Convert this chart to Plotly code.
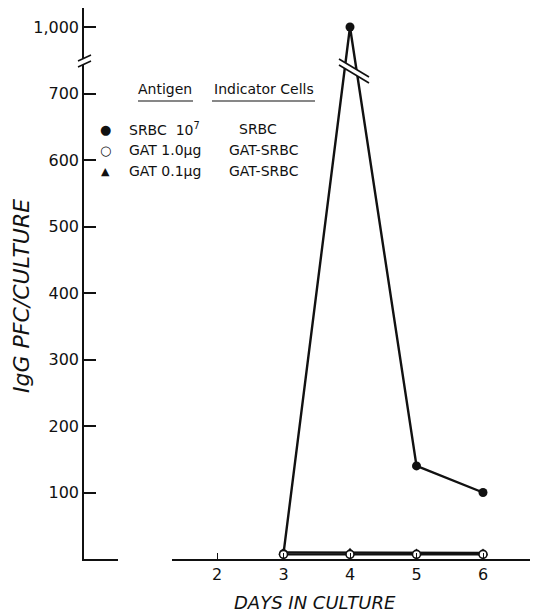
import plotly.graph_objects as go

# ---- data ----
days = [3, 4, 5, 6]
srbc_1e7 = [8, 1000, 140, 100]          # SRBC 10^7 / SRBC indicator
gat_1ug = [7, 7, 7, 7]                  # GAT 1.0 ug / GAT-SRBC
gat_01ug = [10, 10, 9, 9]               # GAT 0.1 ug / GAT-SRBC

x_ticks = [2, 3, 4, 5, 6]
y_ticks = [100, 200, 300, 400, 500, 600, 700, 1000]
y_ticktext = ["100", "200", "300", "400", "500", "600", "700", "1,000"]

# broken axis: values above the break are compressed
def disp(v):
    return v if v <= 750 else 800 + (v - 1000) * 0.2

W, H = 535, 616
ML, MR, MT, MB = 84, 5, 8, 57
PW, PH = W - ML - MR, H - MT - MB

def px(xp):
    return (xp - ML) / PW

def py(yp):
    return (H - MB - yp) / PH

FONT = "DejaVu Sans"
BLACK = "#111111"

fig = go.Figure()

fig.add_trace(go.Scatter(
    x=days, y=[disp(v) for v in srbc_1e7], mode="lines+markers",
    line=dict(color=BLACK, width=2.4),
    marker=dict(symbol="circle", size=9, color=BLACK),
    name="SRBC 10^7", cliponaxis=False))
fig.add_trace(go.Scatter(
    x=days, y=[disp(v) for v in gat_01ug], mode="lines+markers",
    line=dict(color=BLACK, width=2.4),
    marker=dict(symbol="triangle-up", size=9, color=BLACK),
    name="GAT 0.1", cliponaxis=False))
fig.add_trace(go.Scatter(
    x=days, y=[disp(v) for v in gat_1ug], mode="lines+markers",
    line=dict(color=BLACK, width=2.4),
    marker=dict(symbol="circle", size=8, color="white",
                line=dict(color=BLACK, width=1.6)),
    name="GAT 1.0", cliponaxis=False))

shapes = []
# gap in x axis
shapes.append(dict(type="rect", xref="paper", yref="paper",
                   x0=px(118), x1=px(172), y0=py(563), y1=py(555),
                   fillcolor="white", line=dict(width=0), layer="above"))

def brk(x0, y0, x1, y1, gap):
    p = (f"M {px(x0)} {py(y0)} L {px(x1)} {py(y1)} "
         f"L {px(x1)} {py(y1 + gap)} L {px(x0)} {py(y0 + gap)} Z")
    shapes.append(dict(type="path", xref="paper", yref="paper", path=p,
                       fillcolor="white", line=dict(width=0), layer="above"))
    for g in (0, gap):
        shapes.append(dict(type="line", xref="paper", yref="paper",
                           x0=px(x0), y0=py(y0 + g), x1=px(x1), y1=py(y1 + g),
                           line=dict(color=BLACK, width=1.6), layer="above"))

# y-axis break
brk(78, 61, 91, 55, 6)
# break on the peak line
brk(339, 59, 369, 77, 6)

# legend header underlines
shapes.append(dict(type="line", xref="paper", yref="paper",
                   x0=px(138), x1=px(193), y0=py(101), y1=py(101),
                   line=dict(color=BLACK, width=1.2)))
shapes.append(dict(type="line", xref="paper", yref="paper",
                   x0=px(212), x1=px(315), y0=py(101), y1=py(101),
                   line=dict(color=BLACK, width=1.2)))

ann = []
def txt(x, y, s, size=14, anchor="left", italic=False, angle=0):
    ann.append(dict(x=px(x), y=py(y), xref="paper", yref="paper",
                    text=(f"<i>{s}</i>" if italic else s), textangle=angle,
                    showarrow=False, xanchor=anchor, yanchor="middle",
                    font=dict(family=FONT, size=size, color=BLACK)))

txt(165, 89, "Antigen", anchor="center")
txt(264, 89, "Indicator Cells", anchor="center")
txt(105, 129, "●", size=13, anchor="center")
txt(105, 150, "○", size=13, anchor="center")
txt(105, 171, "▲", size=11, anchor="center")
txt(127, 129, "SRBC  10<sup>7</sup>")
txt(127, 150, "GAT 1.0µg")
txt(127, 171, "GAT 0.1µg")
txt(258, 129, "SRBC", anchor="center")
txt(264, 150, "GAT-SRBC", anchor="center")
txt(264, 171, "GAT-SRBC", anchor="center")

# axis titles
txt(315, 602, "DAYS IN CULTURE", size=18, anchor="center", italic=True)
txt(21, 296, "IgG PFC/CULTURE", size=22, anchor="center", italic=True, angle=-90)

fig.update_layout(
    width=W, height=H, margin=dict(l=ML, r=MR, t=MT, b=MB),
    paper_bgcolor="white", plot_bgcolor="white", showlegend=False,
    shapes=shapes, annotations=ann,
    font=dict(family=FONT, color=BLACK),
    xaxis=dict(range=[0, PW / 66.5], tickvals=x_ticks,
               ticks="inside", ticklen=6, tickwidth=1.3, tickcolor=BLACK,
               showline=True, linecolor=BLACK, linewidth=1.5,
               showgrid=False, zeroline=False,
               tickfont=dict(family=FONT, size=16, color=BLACK)),
    yaxis=dict(range=[0, PH / 0.665], tickvals=[disp(v) for v in y_ticks],
               ticktext=y_ticktext,
               ticks="inside", ticklen=12, tickwidth=1.5, tickcolor=BLACK,
               showline=True, linecolor=BLACK, linewidth=1.5,
               showgrid=False, zeroline=False,
               tickfont=dict(family=FONT, size=16, color=BLACK)),
)

fig.write_html("out.html")
